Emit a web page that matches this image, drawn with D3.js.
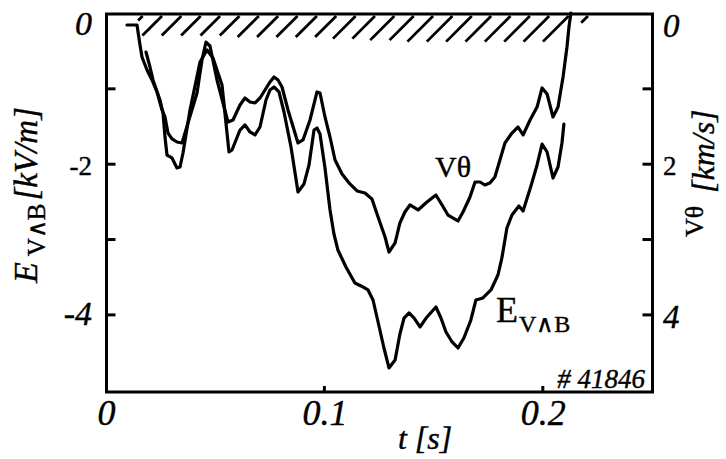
<!DOCTYPE html>
<html><head><meta charset="utf-8">
<script src="https://cdn.jsdelivr.net/npm/d3@7"></script>
<style>
body{margin:0;background:#fff}
svg{display:block}
</style>
</head><body>
<svg id="c" width="726" height="459" font-family="serif"></svg>
<script>
// ---- data ----
const tV = [0.00984,0.01442,0.01580,0.01671,0.01900,0.02129,0.02358,0.02587,0.02724,0.02862,0.03045,0.03274,0.03503,0.03777,0.04190,0.04418,0.04602,0.04785,0.05105,0.05609,0.05838,0.06158,0.06387,0.06616,0.06845,0.07074,0.07303,0.07532,0.07715,0.07898,0.08082,0.08356,0.08814,0.09043,0.09364,0.09684,0.09822,0.1005,0.1028,0.1051,0.1083,0.1119,0.1152,0.1188,0.1220,0.1248,0.1280,0.1298,0.1326,0.1348,0.1371,0.1394,0.1431,0.1472,0.1513,0.1541,0.1568,0.1614,0.1637,0.1669,0.1692,0.1715,0.1737,0.1760,0.1783,0.1806,0.1829,0.1861,0.1889,0.1912,0.1944,0.1976,0.1999,0.2022,0.2049,0.2072,0.2095,0.2113,0.2122,0.2131];
const vTheta = [0.159,0.159,0.425,0.584,0.756,0.889,1.048,1.287,1.380,1.593,1.672,1.712,1.725,1.460,1.062,0.624,0.385,0.438,0.889,1.447,1.420,1.221,1.128,1.181,1.194,1.128,1.022,0.916,0.849,0.889,0.982,1.287,1.725,1.685,1.420,1.048,1.062,1.380,1.646,1.951,2.137,2.269,2.362,2.389,2.468,2.707,2.973,3.172,3.052,2.787,2.641,2.548,2.614,2.508,2.415,2.548,2.681,2.760,2.641,2.442,2.243,2.243,2.283,2.256,2.177,1.951,1.725,1.593,1.513,1.619,1.420,1.248,0.995,1.075,1.380,1.248,0.849,0.451,0.186,0.0];

const tE = [0.01854,0.02037,0.02175,0.02495,0.02633,0.02724,0.02816,0.03045,0.03274,0.03411,0.03549,0.03869,0.04327,0.04648,0.04922,0.05334,0.05655,0.05792,0.06158,0.06387,0.06616,0.06845,0.07074,0.07349,0.07532,0.07715,0.07944,0.08173,0.08494,0.08814,0.09089,0.09318,0.09547,0.09684,0.09822,0.1005,0.1028,0.1046,0.1064,0.1101,0.1142,0.1170,0.1202,0.1225,0.1248,0.1275,0.1298,0.1326,0.1348,0.1367,0.1390,0.1413,0.1440,0.1472,0.1513,0.1536,0.1559,0.1587,0.1614,0.1641,0.1673,0.1696,0.1728,0.1765,0.1797,0.1815,0.1838,0.1861,0.1893,0.1912,0.1948,0.1976,0.1999,0.2022,0.2049,0.2072,0.2090,0.2099];
const eVB = [-0.518,-0.717,-0.889,-1.155,-1.327,-1.646,-1.885,-1.924,-2.057,-2.044,-1.858,-1.287,-0.650,-0.491,-0.597,-0.956,-1.845,-1.818,-1.553,-1.486,-1.579,-1.619,-1.513,-1.155,-1.022,-0.982,-1.048,-1.314,-1.778,-2.376,-2.269,-2.017,-1.553,-1.526,-1.606,-2.057,-2.614,-2.933,-3.145,-3.371,-3.583,-3.623,-3.676,-3.809,-4.101,-4.446,-4.711,-4.605,-4.260,-4.048,-3.981,-4.048,-4.167,-4.034,-3.902,-4.048,-4.234,-4.366,-4.446,-4.313,-4.074,-3.809,-3.782,-3.676,-3.477,-3.251,-2.853,-2.681,-2.561,-2.628,-2.296,-2.017,-1.739,-1.845,-2.190,-2.044,-1.725,-1.473];

const leftTicks = [0,-1,-2,-3,-4];
const leftTickLabels = ["0","","-2","","-4"];
const rightTicks = [0,1,2,3,4];
const rightTickLabels = ["0","","2","","4"];
const xTicks = [0,0.1,0.2];
const xTickLabels = ["0","0.1","0.2"];

// hatched band along the top, depth of each stroke in km/s
const hatchSpan = [0.0170,0.2209];
const hatchDepth = [0.10,0.30,0.30,0.30,0.30,0.30,0.32,0.32,0.32,0.32,0.32,0.34,0.34,0.36,0.36,0.38,0.38,0.38,0.38,0.38,0.38,0.38,0.38,0.13];

// ---- drawing ----
const FONT = "serif";
const svg = d3.select("#c");
const x = d3.scaleLinear().domain([0,0.25]).range([105.5,651.5]);
const yE = d3.scaleLinear().domain([0,-5.03]).range([13,392]);
const yV = d3.scaleLinear().domain([0,5.03]).range([13,392]);

// hatch
const nH = hatchDepth.length;
const hatchT = d3.range(nH).map(i => hatchSpan[0] + i*(hatchSpan[1]-hatchSpan[0])/(nH-1));
const yTopH = yV(0.04);
svg.append("g").selectAll("line").data(hatchT).join("line")
  .attr("x1", t => x(t)).attr("y1", yTopH)
  .attr("x2", (t,i) => x(t) - (yV(hatchDepth[i]) - yTopH)).attr("y2", (t,i) => yV(hatchDepth[i]))
  .attr("stroke","#000").attr("stroke-width",2.8).attr("stroke-linecap","butt");

// frame
svg.append("rect").attr("x",x(0)+1).attr("y",yE(0)+1).attr("width",x(0.25)-x(0)).attr("height",yE(-5.03)-yE(0)-1)
  .attr("fill","none").attr("stroke","#000").attr("stroke-width",3);

// ticks
const axL = svg.append("g").attr("transform",`translate(${x(0)+1},0)`)
  .call(d3.axisRight(yE).tickValues(leftTicks.filter(v=>v!==0)).tickSize(9).tickFormat(""));
const axR = svg.append("g").attr("transform",`translate(${x(0.25)+1},0)`)
  .call(d3.axisLeft(yV).tickValues(rightTicks.filter(v=>v!==0)).tickSize(10).tickFormat(""));
const axB = svg.append("g").attr("transform",`translate(0,${yE(-5.03)})`)
  .call(d3.axisTop(x).tickValues(xTicks.filter(v=>v!==0)).tickSize(6).tickFormat(""));
[axL,axR,axB].forEach(g=>{g.select(".domain").remove();g.selectAll("line").attr("stroke","#000").attr("stroke-width",3);});

const T = (sel) => sel.append("text").attr("font-family",FONT).attr("fill","#000").attr("stroke","#000").attr("stroke-width",0.4);

// tick labels
const italicSet = new Set(["0","-4","4","0.1","0.2"]);
const gl = svg.append("g");
leftTicks.forEach((v,i)=>{
  if(!leftTickLabels[i]) return;
  const it = italicSet.has(leftTickLabels[i]);
  T(gl).attr("x",92).attr("y",yE(v) + (v===0?22:11)).attr("text-anchor","end")
    .attr("font-size", it?34:27).attr("font-style", it?"italic":"normal").text(leftTickLabels[i]);
});
const gr = svg.append("g");
rightTicks.forEach((v,i)=>{
  if(!rightTickLabels[i]) return;
  const it = italicSet.has(rightTickLabels[i]);
  T(gr).attr("x",663).attr("y",yV(v) + (v===0?24:(v===4?14:11))).attr("text-anchor","start")
    .attr("font-size", it?33:27).attr("font-style", it?"italic":"normal").text(rightTickLabels[i]);
});
const gb = svg.append("g");
xTicks.forEach((v,i)=>{
  T(gb).attr("x",x(v)+1).attr("y",425).attr("text-anchor","middle")
    .attr("font-size",36).attr("font-style","italic").text(xTickLabels[i]);
});

// curves
const lineV = d3.line().x((d,i)=>x(tV[i])).y(d=>yV(d));
const lineE = d3.line().x((d,i)=>x(tE[i])).y(d=>yE(d));
svg.append("path").datum(vTheta).attr("d",lineV).attr("fill","none").attr("stroke","#000")
  .attr("stroke-width",3.2).attr("stroke-linejoin","round").attr("stroke-linecap","round");
svg.append("path").datum(eVB).attr("d",lineE).attr("fill","none").attr("stroke","#000")
  .attr("stroke-width",3.2).attr("stroke-linejoin","round").attr("stroke-linecap","round");

// curve labels
T(svg).attr("x",435).attr("y",177).attr("font-size",30).text("Vθ");
const eLab = T(svg).attr("x",496).attr("y",322);
eLab.append("tspan").attr("font-size",36).text("E");
eLab.append("tspan").attr("font-size",24).attr("dy",10).attr("dx",1).text("V∧B");

// shot number
T(svg).attr("x",645).attr("y",388).attr("text-anchor","end")
  .attr("font-size",27).attr("font-style","italic").text("# 41846");

// x axis title
T(svg).attr("x",425).attr("y",449).attr("text-anchor","middle")
  .attr("font-size",32).attr("font-style","italic").text("t [s]");

// left axis title
const lt = T(svg).attr("transform","translate(37,283) rotate(-90)");
lt.append("tspan").attr("font-size",34).attr("font-style","italic").text("E");
lt.append("tspan").attr("font-size",25).attr("dy",8).attr("dx",6).text("V∧B");
lt.append("tspan").attr("font-size",33).attr("font-style","italic").attr("dy",-8).attr("dx",3).text("[kV/m]");

// right axis title
T(svg).attr("transform","translate(703,237) rotate(-90)").attr("font-size",26).text("Vθ");
T(svg).attr("transform","translate(714,193) rotate(-90)")
  .attr("font-size",32).attr("font-style","italic").text("[km/s]");
</script>
</body></html>
